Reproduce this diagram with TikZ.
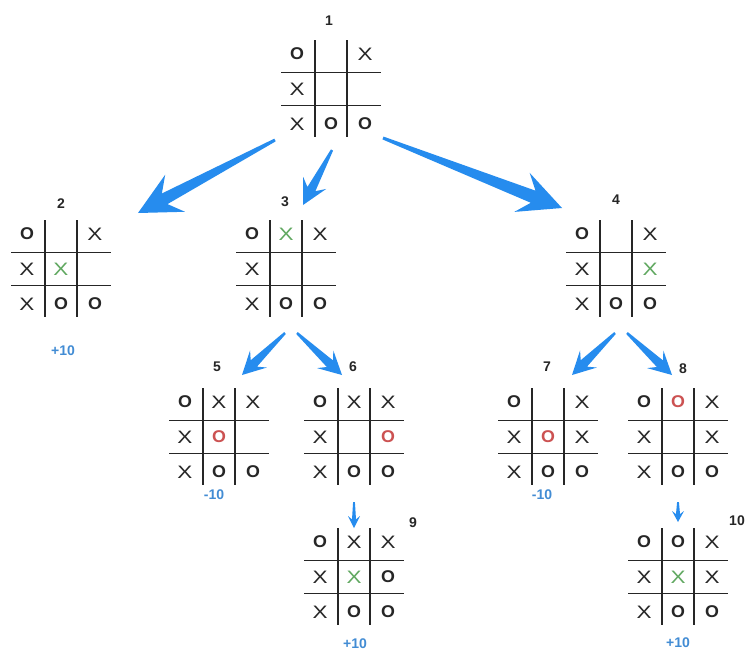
\documentclass[tikz,border=0pt]{standalone}
\usepackage{fontspec}
\setmainfont{Liberation Sans}
\usepackage{graphicx}
\usetikzlibrary{calc}

\definecolor{arrowblue}{RGB}{38,140,238}
\definecolor{scoreblue}{RGB}{66,140,212}
\definecolor{movegreen}{RGB}{96,168,96}
\definecolor{movered}{RGB}{204,82,82}

\tikzset{
  boardbox/.style={minimum width=100pt,minimum height=97pt,inner sep=0pt},
  gridline/.style={line width=1.6pt,black!85},
  cello/.style={font=\bfseries\fontsize{17}{17}\selectfont,text=black!85,inner sep=0pt},
  cellx/.style={font=\fontsize{18}{18}\selectfont,text=black!85,inner sep=0pt},
  cellg/.style={font=\fontsize{18}{18}\selectfont,text=movegreen,inner sep=0pt},
  cellr/.style={font=\bfseries\fontsize{17}{17}\selectfont,text=movered,inner sep=0pt},
  celle/.style={inner sep=0pt},
  numlabel/.style={font=\bfseries\fontsize{14}{14}\selectfont,text=black!85},
  score/.style={font=\bfseries\fontsize{14}{14}\selectfont,text=scoreblue},
}

\newcommand{\symo}{\scalebox{1.05}[1]{O}}
\newcommand{\symr}{\scalebox{1.05}[1]{O}}
\newcommand{\symx}{\scalebox{1.25}[1]{X}}
\newcommand{\symg}{\scalebox{1.25}[1]{X}}
\newcommand{\syme}{}

% board: name, centre, nine cells
\newcommand{\board}[3]{%
  \node[boardbox] (#1) at (#2) {};
  \draw[gridline] ($(#1)+(-16,-49)$) -- ($(#1)+(-16,48)$);
  \draw[gridline] ($(#1)+(16,-49)$) -- ($(#1)+(16,48)$);
  \draw[gridline] ($(#1)+(-50,-16.5)$) -- ($(#1)+(50,-16.5)$);
  \draw[gridline] ($(#1)+(-50,16.5)$) -- ($(#1)+(50,16.5)$);
  \foreach \s [count=\i from 0] in {#3} {
    \pgfmathtruncatemacro{\brow}{\i/3}
    \pgfmathtruncatemacro{\bcol}{mod(\i,3)}
    \node[cell\s] at ($(#1)+(\bcol*34-34,\brow*35-35)$) {\csname sym\s\endcsname};
  }
}

% fat arrow: from, to, tail half width, shaft half width, head half width, head length
\newcommand{\fatarrow}[6]{%
  \coordinate (hs) at ($(#2)!0.72*#6pt!(#1)$);
  \coordinate (hb) at ($(#2)!#6pt!(#1)$);
  \fill[arrowblue] ($(#1)!#3pt!90:(#2)$) -- ($(hs)!#4pt!90:(#2)$) -- ($(hb)!#5pt!90:(#2)$)
    -- (#2) -- ($(hb)!#5pt!-90:(#2)$) -- ($(hs)!#4pt!-90:(#2)$) -- ($(#1)!#3pt!-90:(#2)$) -- cycle;
}

\begin{document}
\begin{tikzpicture}[x=1pt,y=-1pt]
\useasboundingbox (0,0) rectangle (749,654);
\clip (0,0) rectangle (749,654);
\fill[white] (0,0) rectangle (749,654);

\board{b1}{331,89}{o,e,x,x,e,e,x,o,o}
\board{b2}{61,269}{o,e,x,x,g,e,x,o,o}
\board{b3}{286,269}{o,g,x,x,e,e,x,o,o}
\board{b4}{616,269}{o,e,x,x,e,g,x,o,o}
\board{b5}{219,437}{o,x,x,x,r,e,x,o,o}
\board{b6}{354,437}{o,x,x,x,e,r,x,o,o}
\board{b7}{548,437}{o,e,x,x,r,x,x,o,o}
\board{b8}{678,437}{o,r,x,x,e,x,x,o,o}
\board{b9}{354,577}{o,x,x,x,g,o,x,o,o}
\board{b10}{678,577}{o,o,x,x,g,x,x,o,o}

\node[numlabel] (n1) at (329,21) {1};
\node[numlabel] (n2) at (61,204) {2};
\node[numlabel] (n3) at (285,202) {3};
\node[numlabel] (n4) at (616,200) {4};
\node[numlabel] (n5) at (217,367) {5};
\node[numlabel] (n6) at (353,367) {6};
\node[numlabel] (n7) at (547,367) {7};
\node[numlabel] (n8) at (683,369) {8};
\node[numlabel] (n9) at (413,523) {9};
\node[numlabel] (n10) at (737,521) {10};

\node[score] (s2) at (63,351) {+10};
\node[score] (s5) at (214,495) {-10};
\node[score] (s7) at (542,495) {-10};
\node[score] (s9) at (355,644) {+10};
\node[score] (s10) at (678,643) {+10};

% arrow ends
\coordinate (t2) at (275,140);  \coordinate (h2) at (138,213);
\coordinate (t3) at (332,150);  \coordinate (h3) at (303,205);
\coordinate (t4) at (383,138);  \coordinate (h4) at (562,208);
\coordinate (t5) at (285,333);  \coordinate (h5) at (242,375);
\coordinate (t6) at (297,333);  \coordinate (h6) at (342,375);
\coordinate (t7) at (615,333);  \coordinate (h7) at (572,375);
\coordinate (t8) at (627,333);  \coordinate (h8) at (672,375);
\coordinate (t9) at (354,502);  \coordinate (h9) at (354,528);
\coordinate (t10) at (678,502); \coordinate (h10) at (678,522);

\fatarrow{t2}{h2}{1.5}{6}{21}{42}
\fatarrow{t3}{h3}{1.2}{4.5}{13}{25}
\fatarrow{t4}{h4}{1.5}{6.5}{21}{43}
\fatarrow{t5}{h5}{1.2}{4.5}{12}{23}
\fatarrow{t6}{h6}{1.2}{4.5}{12}{23}
\fatarrow{t7}{h7}{1.2}{4.5}{12}{23}
\fatarrow{t8}{h8}{1.2}{4.5}{12}{23}
\fatarrow{t9}{h9}{0.9}{2}{6}{12}
\fatarrow{t10}{h10}{0.9}{2}{6}{11}

\end{tikzpicture}
\end{document}
